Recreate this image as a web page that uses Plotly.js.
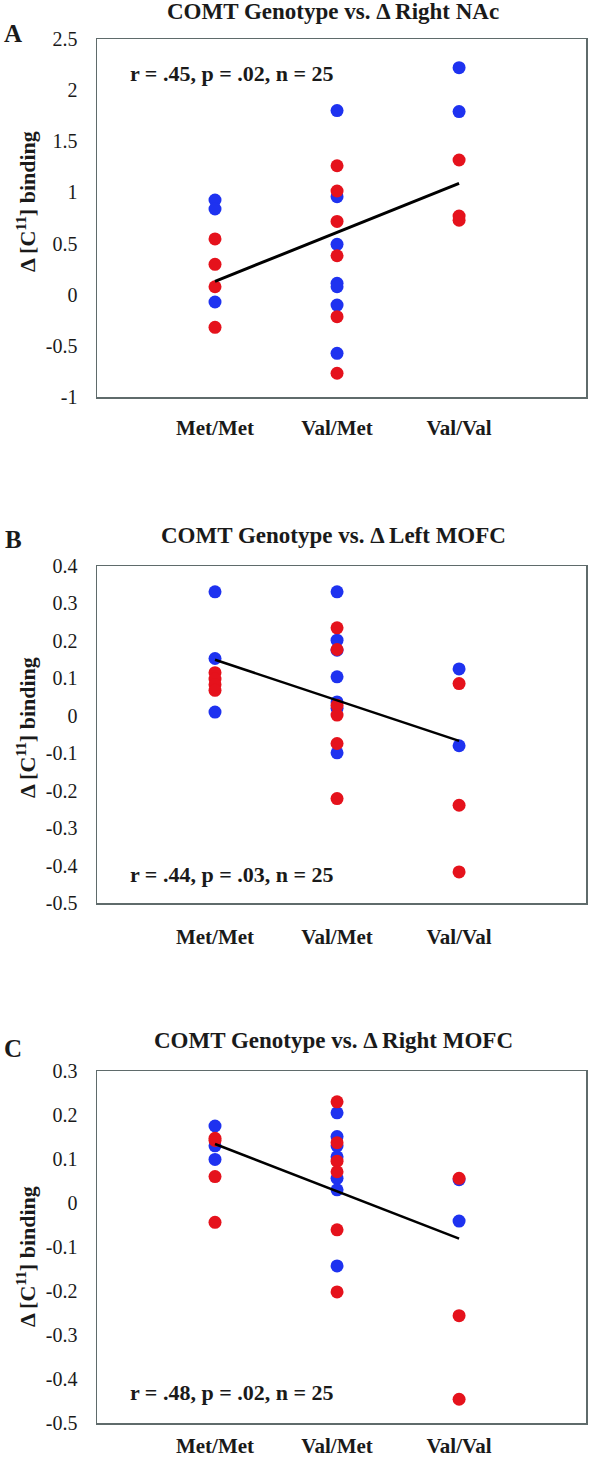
<!DOCTYPE html>
<html>
<head>
<meta charset="utf-8">
<script src="https://cdn.plot.ly/plotly-3.0.1.min.js"></script>
<style>html,body{margin:0;padding:0;background:#fff;}#chart{width:600px;height:1460px;}</style>
</head>
<body>
<div id="chart"></div>
<script>
// ---- data ----
const genotypes = ['Met/Met', 'Val/Met', 'Val/Val'];

// Panel A: Δ Right NAc
const nacBlueX = [1, 1, 1, 2, 2, 2, 2, 2, 2, 2, 3, 3];
const nacBlueY = [0.926, 0.838, -0.071, 1.80, 0.958, 0.493, 0.111, 0.078, -0.101, -0.573, 2.22, 1.79];
const nacRedX  = [1, 1, 1, 1, 2, 2, 2, 2, 2, 2, 3, 3, 3];
const nacRedY  = [0.545, 0.297, 0.078, -0.319, 1.261, 1.014, 0.717, 0.381, -0.215, -0.768, 1.317, 0.769, 0.728];
const nacTicks = [2.5, 2, 1.5, 1, 0.5, 0, -0.5, -1];
const nacTickText = ['2.5', '2', '1.5', '1', '0.5', '0', '-0.5', '-1'];

// Panel B: Δ Left MOFC
const lmofcBlueX = [1, 1, 1, 2, 2, 2, 2, 2, 2, 2, 3, 3];
const lmofcBlueY = [0.331, 0.153, 0.010, 0.331, 0.202, 0.175, 0.104, 0.037, 0.020, -0.099, 0.125, -0.080];
const lmofcRedX  = [1, 1, 1, 1, 2, 2, 2, 2, 2, 2, 3, 3, 3];
const lmofcRedY  = [0.115, 0.098, 0.083, 0.068, 0.235, 0.177, 0.028, 0.002, -0.074, -0.221, 0.086, -0.239, -0.417];
const lmofcTicks = [0.4, 0.3, 0.2, 0.1, 0, -0.1, -0.2, -0.3, -0.4, -0.5];
const lmofcTickText = ['0.4', '0.3', '0.2', '0.1', '0', '-0.1', '-0.2', '-0.3', '-0.4', '-0.5'];

// Panel C: Δ Right MOFC
const rmofcBlueX = [1, 1, 1, 2, 2, 2, 2, 2, 2, 2, 3, 3];
const rmofcBlueY = [0.175, 0.130, 0.099, 0.205, 0.151, 0.130, 0.105, 0.056, 0.030, -0.143, 0.053, -0.041];
const rmofcRedX  = [1, 1, 1, 1, 2, 2, 2, 2, 2, 2, 3, 3, 3];
const rmofcRedY  = [0.147, 0.142, 0.060, -0.044, 0.230, 0.137, 0.095, 0.071, -0.061, -0.202, 0.056, -0.256, -0.446];
const rmofcTicks = [0.3, 0.2, 0.1, 0, -0.1, -0.2, -0.3, -0.4, -0.5];
const rmofcTickText = ['0.3', '0.2', '0.1', '0', '-0.1', '-0.2', '-0.3', '-0.4', '-0.5'];

const titles = ['COMT Genotype vs. Δ Right NAc', 'COMT Genotype vs. Δ Left MOFC', 'COMT Genotype vs. Δ Right MOFC'];
const statsText = ['r = .45, p = .02, n = 25', 'r = .44, p = .03, n = 25', 'r = .48, p = .02, n = 25'];
const panelLetters = ['A', 'B', 'C'];
const yTitle = 'Δ [C<sup>11</sup>] binding';

// ---- styling / layout ----
const W = 600, H = 1460;
const BLUE = '#1e32f0', RED = '#e5121c', FRAME = '#5f6b6b', TXT = '#1a1a1a';
const FONT = 'Liberation Serif, Times New Roman, serif';

const panels = [
  {bx: nacBlueX, by: nacBlueY, rx: nacRedX, ry: nacRedY, ticks: nacTicks, tt: nacTickText, range: [-1, 2.5],
   top: 39, bottom: 397, titleY: 12, letterY: 33, statsY: 73, yTitleY: 202, xlabStand: 11, lw: 3},
  {bx: lmofcBlueX, by: lmofcBlueY, rx: lmofcRedX, ry: lmofcRedY, ticks: lmofcTicks, tt: lmofcTickText, range: [-0.5, 0.4],
   top: 566, bottom: 903, titleY: 535, letterY: 540, statsY: 875, yTitleY: 728, xlabStand: 14, lw: 2.5},
  {bx: rmofcBlueX, by: rmofcBlueY, rx: rmofcRedX, ry: rmofcRedY, ticks: rmofcTicks, tt: rmofcTickText, range: [-0.5, 0.3],
   top: 1071, bottom: 1423, titleY: 1040, letterY: 1048, statsY: 1392, yTitleY: 1257, xlabStand: 3, lw: 2.5}
];

function fit(xs, ys) {
  const n = xs.length;
  const mx = xs.reduce((a, b) => a + b, 0) / n;
  const my = ys.reduce((a, b) => a + b, 0) / n;
  let sxy = 0, sxx = 0;
  for (let i = 0; i < n; i++) { sxy += (xs[i] - mx) * (ys[i] - my); sxx += (xs[i] - mx) ** 2; }
  const b = sxy / sxx;
  return {a: my - b * mx, b: b};
}

const py = px => 1 - px / H;
const data = [];
const layout = {
  width: W, height: H, margin: {l: 0, r: 0, t: 0, b: 0},
  paper_bgcolor: '#fff', plot_bgcolor: '#fff', showlegend: false,
  font: {family: FONT, color: TXT},
  annotations: []
};

panels.forEach((p, i) => {
  const sfx = i === 0 ? '' : String(i + 1);
  const xa = 'x' + sfx, ya = 'y' + sfx;
  const allX = p.bx.concat(p.rx), allY = p.by.concat(p.ry);
  const f = fit(allX, allY);
  const lx = [Math.min(...allX), Math.max(...allX)];
  data.push({type: 'scatter', mode: 'markers', x: p.bx, y: p.by, xaxis: xa, yaxis: ya,
    marker: {color: BLUE, size: 13}, hoverinfo: 'skip'});
  data.push({type: 'scatter', mode: 'markers', x: p.rx, y: p.ry, xaxis: xa, yaxis: ya,
    marker: {color: RED, size: 13}, hoverinfo: 'skip'});
  data.push({type: 'scatter', mode: 'lines', x: lx, y: lx.map(v => f.a + f.b * v), xaxis: xa, yaxis: ya,
    line: {color: '#000', width: p.lw}, hoverinfo: 'skip'});

  layout['xaxis' + sfx] = {
    domain: [97 / W, 586 / W], anchor: ya, range: [0.033, 4.04],
    tickvals: [1, 2, 3], ticktext: genotypes, ticks: '', ticklabelstandoff: p.xlabStand,
    tickfont: {family: FONT, size: 21, color: TXT, weight: 'bold'},
    showline: true, mirror: true, linecolor: FRAME, linewidth: 1.5,
    showgrid: false, zeroline: false, fixedrange: true
  };
  layout['yaxis' + sfx] = {
    domain: [py(p.bottom), py(p.top)], anchor: xa, range: p.range,
    tickvals: p.ticks, ticktext: p.tt, ticks: '', ticklabelstandoff: 14,
    tickfont: {family: FONT, size: 20, color: TXT},
    showline: true, mirror: true, linecolor: FRAME, linewidth: 1.5,
    showgrid: false, zeroline: false, fixedrange: true
  };

  layout.annotations.push(
    {xref: 'paper', yref: 'paper', x: 333 / W, y: py(p.titleY), xanchor: 'center', yanchor: 'middle',
     text: '<b>' + titles[i] + '</b>', showarrow: false, font: {family: FONT, size: 23, color: TXT}},
    {xref: 'paper', yref: 'paper', x: 13 / W, y: py(p.letterY), xanchor: 'center', yanchor: 'middle',
     text: '<b>' + panelLetters[i] + '</b>', showarrow: false, font: {family: FONT, size: 25, color: TXT}},
    {xref: 'paper', yref: 'paper', x: 128 / W, y: py(p.statsY), xanchor: 'left', yanchor: 'middle',
     text: '<b>' + statsText[i] + '</b>', showarrow: false, font: {family: FONT, size: 22, color: TXT}},
    {xref: 'paper', yref: 'paper', x: 26 / W, y: py(p.yTitleY), xanchor: 'center', yanchor: 'middle',
     textangle: -90, text: '<b>' + yTitle + '</b>', showarrow: false, font: {family: FONT, size: 22, color: TXT}}
  );
});

Plotly.newPlot('chart', data, layout, {staticPlot: true, displayModeBar: false});
</script>
</body>
</html>
